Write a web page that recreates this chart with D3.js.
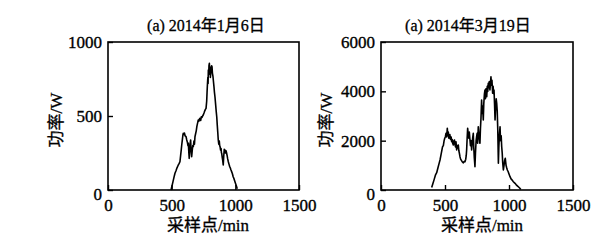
<!DOCTYPE html>
<html><head><meta charset="utf-8">
<script src="https://cdn.jsdelivr.net/npm/d3@7"></script>
<style>body{margin:0;background:#fff}svg{display:block}</style>
</head><body>
<svg id="c" width="604" height="249"></svg>
<script>
const xTicks = [0, 500, 1000, 1500];
const janYTicks = [0, 500, 1000];
const marYTicks = [0, 2000, 4000, 6000];
const titles = ["(a) 2014年1月6日", "(a) 2014年3月19日"];
const xLabel = "采样点/min";
const yLabel = "功率/W";

const janMinutes = [495,502,510,518,526,534,542,552,558,565,570,575,579,584,588,591,596,600,606,613,618,624,628,631,635,638,642,646,649,653,657,662,666,670,675,679,683,688,693,698,703,709,714,718,722,728,733,738,743,748,754,760,765,770,775,778,780,784,786,788,791,793,796,799,802,804,807,810,814,817,820,824,827,832,836,840,846,850,854,858,862,866,870,874,877,880,884,888,891,893,897,901,905,909,913,916,919,923,927,932,936,940,945,950,955,960,966,971,977,983,990,997,1003,1009,1015];
const janPower = [0,25,55,85,113,130,150,169,178,191,230,270,304,340,370,383,375,385,365,360,340,320,300,316,250,214,280,320,338,260,225,270,300,293,330,310,360,380,400,430,450,473,465,480,484,470,495,490,500,507,520,535,545,552,600,660,698,760,720,811,780,840,856,800,830,760,789,810,840,833,790,770,743,700,660,630,570,530,495,440,390,338,310,330,300,293,270,280,250,248,220,200,169,230,275,260,270,250,265,248,230,210,191,175,160,150,135,124,110,90,75,56,40,25,8];

const marMinutes = [396,405,415,425,435,445,455,461,468,475,481,487,493,498,503,508,513,518,522,526,530,534,538,543,548,552,556,560,565,570,574,578,582,586,591,595,599,604,608,612,617,622,628,635,642,650,656,662,666,669,673,677,681,686,690,695,699,703,708,712,716,721,725,729,734,738,743,747,751,755,760,764,768,773,777,781,786,790,794,799,803,808,812,816,820,826,830,834,838,842,846,851,855,859,863,867,872,876,880,883,887,891,895,900,904,908,912,917,921,926,930,934,939,943,947,951,956,961,966,971,977,982,987,993,1000,1008,1016,1025,1034,1045,1055,1065,1075,1085,1092];
const marPower = [100,250,420,600,700,900,1100,1216,1400,1600,1755,1800,2000,2100,2161,2300,2150,2501,2200,2350,2100,2161,2250,2050,2150,1958,2050,1900,1824,2000,2027,1850,1750,1950,1622,1800,1700,1824,1600,1500,1350,1250,1200,1147,1100,1150,1147,1250,1400,1622,2100,2501,2300,2100,2350,2027,1800,2000,1622,1850,2100,2299,1700,1300,945,1500,2000,2161,2300,1900,2566,2300,2100,1893,2500,2900,3649,3100,3400,2838,3500,3900,4054,3700,4100,3782,4200,4000,4326,4150,4400,4054,4300,4593,4250,4450,3920,4200,3900,4054,3500,2838,3300,3700,3515,3200,2500,1082,1800,2300,2566,2000,2200,1755,1500,1100,811,1000,1200,1285,1000,900,811,750,650,539,450,400,336,280,220,170,120,70,20];

const svg = d3.select("#c");
const serif = "'Liberation Serif','Times New Roman',serif";
const cjk = "'Liberation Serif','Noto Sans CJK SC',serif";

function panel(cfg) {
  const x = d3.scaleLinear().domain([0, 1500]).range([cfg.x0, cfg.x1]);
  const y = d3.scaleLinear().domain([0, cfg.ymax]).range([190, 42]);
  const g = svg.append("g");

  const line = d3.line().x((d, i) => x(cfg.mins[i])).y((d) => y(d));
  g.append("path").datum(cfg.vals).attr("d", line)
    .attr("fill", "none").attr("stroke", "#000").attr("stroke-width", 1.6)
    .attr("stroke-linejoin", "round");

  g.append("rect").attr("x", cfg.x0).attr("y", 42)
    .attr("width", cfg.x1 - cfg.x0).attr("height", 148)
    .attr("fill", "none").attr("stroke", "#000").attr("stroke-width", 1.6);

  const xa = g.append("g").attr("transform", "translate(0,190)")
    .call(d3.axisBottom(x).tickValues(xTicks).tickSize(-5).tickPadding(9).tickFormat(d3.format("d")));
  const ya = g.append("g").attr("transform", `translate(${cfg.x0},0)`)
    .call(d3.axisLeft(y).tickValues(cfg.yTicks).tickSize(-5).tickPadding(6).tickFormat(d3.format("d")));
  [xa, ya].forEach(a => {
    a.select(".domain").remove();
    a.selectAll(".tick line").attr("stroke", "#000").attr("stroke-width", 1.4);
    a.selectAll("text").attr("fill", "#000").attr("stroke", "#000").attr("stroke-width", 0.35)
      .style("font-family", serif).style("font-size", "17px");
  });
  xa.selectAll("text").attr("dy", "0.71em");
  ya.selectAll(".tick").filter(d => d === 0).select("text").attr("dy", "0.55em");

  const txt = (sel) => sel.attr("fill", "#000").attr("stroke", "#000").attr("stroke-width", 0.3);
  g.append("text").attr("x", cfg.tx).attr("y", 31).attr("text-anchor", "middle")
    .style("font-family", cjk).style("font-size", "16px").text(cfg.title).call(txt);
  g.append("text").attr("x", cfg.lx).attr("y", 231).attr("text-anchor", "middle")
    .style("font-family", cjk).style("font-size", "17px").text(xLabel).call(txt);
  g.append("text").attr("transform", `translate(${cfg.yx},120) rotate(-90)`)
    .attr("text-anchor", "middle").attr("dy", "0.35em")
    .style("font-family", cjk).style("font-size", "17px").text(yLabel).call(txt);
}

panel({x0: 108, x1: 299, ymax: 1000, yTicks: janYTicks, mins: janMinutes, vals: janPower,
  title: titles[0], tx: 206, lx: 208, yx: 56});
panel({x0: 381, x1: 573, ymax: 6000, yTicks: marYTicks, mins: marMinutes, vals: marPower,
  title: titles[1], tx: 468, lx: 482, yx: 326});
</script>
</body></html>
